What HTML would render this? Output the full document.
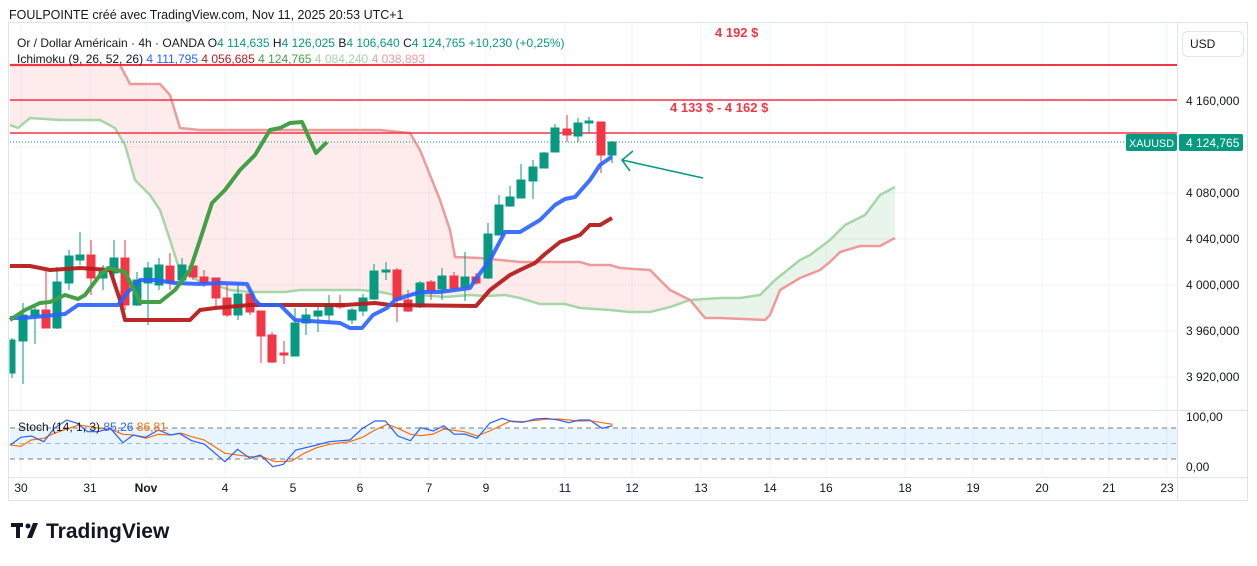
<!DOCTYPE html>
<html><head><meta charset="utf-8"><style>
body{margin:0;background:#fff;width:1257px;height:561px;overflow:hidden;font-family:"Liberation Sans",sans-serif;}
</style></head><body>
<svg width="1257" height="561" xmlns="http://www.w3.org/2000/svg" font-family="Liberation Sans, sans-serif">
<text x="9" y="19" font-size="12.5" fill="#131722">FOULPOINTE créé avec TradingView.com, Nov 11, 2025 20:53 UTC+1</text>
<rect x="8.5" y="22.5" width="1239" height="478" fill="#fff" stroke="#e0e3eb"/>
<g stroke="#f0f3fa" stroke-width="1">
<line x1="10" y1="101" x2="1177" y2="101"/><line x1="10" y1="147" x2="1177" y2="147"/><line x1="10" y1="193" x2="1177" y2="193"/><line x1="10" y1="239" x2="1177" y2="239"/><line x1="10" y1="285" x2="1177" y2="285"/><line x1="10" y1="331" x2="1177" y2="331"/><line x1="10" y1="377" x2="1177" y2="377"/>
<line x1="21" y1="23" x2="21" y2="477"/><line x1="90" y1="23" x2="90" y2="477"/><line x1="146" y1="23" x2="146" y2="477"/><line x1="225" y1="23" x2="225" y2="477"/><line x1="293" y1="23" x2="293" y2="477"/><line x1="360" y1="23" x2="360" y2="477"/><line x1="429" y1="23" x2="429" y2="477"/><line x1="486" y1="23" x2="486" y2="477"/><line x1="565" y1="23" x2="565" y2="477"/><line x1="632" y1="23" x2="632" y2="477"/><line x1="701" y1="23" x2="701" y2="477"/><line x1="770" y1="23" x2="770" y2="477"/><line x1="826" y1="23" x2="826" y2="477"/><line x1="905" y1="23" x2="905" y2="477"/><line x1="973" y1="23" x2="973" y2="477"/><line x1="1042" y1="23" x2="1042" y2="477"/><line x1="1109" y1="23" x2="1109" y2="477"/><line x1="1167" y1="23" x2="1167" y2="477"/>
</g>
<line x1="1177.5" y1="23" x2="1177.5" y2="500" stroke="#e0e3eb"/>
<line x1="9" y1="410.5" x2="1247" y2="410.5" stroke="#e0e3eb"/>
<line x1="9" y1="477.5" x2="1247" y2="477.5" stroke="#e0e3eb"/>
<defs>
<clipPath id="cp"><rect x="10" y="23" width="680" height="390"/></clipPath>
<clipPath id="cg"><rect x="690" y="23" width="300" height="390"/></clipPath>
</defs>
<g>
<polygon clip-path="url(#cp)" fill="#f23645" fill-opacity="0.1" points="10,125 18,128 30,118 60,120 100,120 115,128 125,145 135,180 150,195 160,210 170,240 178,265 190,275 200,282 215,285 230,290 250,292 285,292 300,290 360,290 380,292 395,295 420,295 445,297 470,295 485,296 505,295 520,298 540,304 565,304 580,308 610,310 630,312 650,312 670,307 690,300 720,298 740,298 760,295 775,280 800,260 810,255 830,240 845,225 865,215 880,195 895,187 895,238 880,246 860,246 840,252 830,262 820,270 800,278 780,290 770,315 765,320 720,318 705,318 690,300 670,290 660,280 650,270 620,268 610,265 590,265 580,262 520,262 500,260 480,258 455,257 450,230 440,200 420,150 410,133 380,130 200,130 180,128 170,95 160,84 130,84 120,65 10,65"/>
<polygon clip-path="url(#cg)" fill="#4caf50" fill-opacity="0.12" points="10,125 18,128 30,118 60,120 100,120 115,128 125,145 135,180 150,195 160,210 170,240 178,265 190,275 200,282 215,285 230,290 250,292 285,292 300,290 360,290 380,292 395,295 420,295 445,297 470,295 485,296 505,295 520,298 540,304 565,304 580,308 610,310 630,312 650,312 670,307 690,300 720,298 740,298 760,295 775,280 800,260 810,255 830,240 845,225 865,215 880,195 895,187 895,238 880,246 860,246 840,252 830,262 820,270 800,278 780,290 770,315 765,320 720,318 705,318 690,300 670,290 660,280 650,270 620,268 610,265 590,265 580,262 520,262 500,260 480,258 455,257 450,230 440,200 420,150 410,133 380,130 200,130 180,128 170,95 160,84 130,84 120,65 10,65"/>
</g>
<polyline fill="none" stroke="#a5d6a7" stroke-width="2.5" points="10,125 18,128 30,118 60,120 100,120 115,128 125,145 135,180 150,195 160,210 170,240 178,265 190,275 200,282 215,285 230,290 250,292 285,292 300,290 360,290 380,292 395,295 420,295 445,297 470,295 485,296 505,295 520,298 540,304 565,304 580,308 610,310 630,312 650,312 670,307 690,300 720,298 740,298 760,295 775,280 800,260 810,255 830,240 845,225 865,215 880,195 895,187"/>
<polyline fill="none" stroke="#ef9a9a" stroke-width="2.5" points="10,65 120,65 130,84 160,84 170,95 180,128 200,130 380,130 410,133 420,150 440,200 450,230 455,257 480,258 500,260 520,262 580,262 590,265 610,265 620,268 650,270 660,280 670,290 690,300 705,318 720,318 765,320 770,315 780,290 800,278 820,270 830,262 840,252 860,246 880,246 895,238"/>
<line x1="10" y1="65" x2="1177" y2="65" stroke="#f23645" stroke-width="2"/>
<line x1="10" y1="100" x2="1177" y2="100" stroke="#f23645" stroke-width="1.5"/>
<line x1="10" y1="133" x2="1177" y2="133" stroke="#f23645" stroke-width="1.5"/>
<line x1="10" y1="142" x2="1125" y2="142" stroke="#089981" stroke-width="1" stroke-dasharray="1,2"/>
<text x="715" y="37" font-size="13" font-weight="bold" fill="#f23645">4 192 $</text>
<text x="670" y="112" font-size="13" font-weight="bold" fill="#f23645">4 133 $ - 4 162 $</text>
<g stroke-width="1">
<g fill="#089981" stroke="#089981">
<line x1="12" y1="338" x2="12" y2="378"/><rect x="10" y="340" width="5" height="33"/>
<line x1="23" y1="303" x2="23" y2="384"/><rect x="19" y="315" width="8" height="26"/>
<line x1="35" y1="305" x2="35" y2="344"/><rect x="31" y="310" width="8" height="6"/>
<line x1="57" y1="267" x2="57" y2="329"/><rect x="53" y="282" width="8" height="46"/>
<line x1="69" y1="250" x2="69" y2="290"/><rect x="65" y="256" width="8" height="27"/>
<line x1="80" y1="232" x2="80" y2="265"/><rect x="76" y="255" width="8" height="5"/>
<line x1="103" y1="265" x2="103" y2="290"/><rect x="99" y="272" width="8" height="6"/>
<line x1="114" y1="240" x2="114" y2="285"/><rect x="110" y="258" width="8" height="15"/>
<line x1="137" y1="272" x2="137" y2="306"/><rect x="133" y="280" width="8" height="25"/>
<line x1="148" y1="262" x2="148" y2="325"/><rect x="144" y="268" width="8" height="15"/>
<line x1="159" y1="258" x2="159" y2="290"/><rect x="155" y="265" width="8" height="20"/>
<line x1="182" y1="258" x2="182" y2="283"/><rect x="178" y="265" width="8" height="15"/>
<line x1="238" y1="283" x2="238" y2="320"/><rect x="234" y="294" width="8" height="21"/>
<line x1="295" y1="308" x2="295" y2="356"/><rect x="291" y="323" width="8" height="33"/>
<line x1="306" y1="308" x2="306" y2="335"/><rect x="302" y="315" width="8" height="8"/>
<line x1="318" y1="306" x2="318" y2="332"/><rect x="314" y="311" width="8" height="5"/>
<line x1="329" y1="295" x2="329" y2="323"/><rect x="325" y="304" width="8" height="11"/>
<line x1="352" y1="308" x2="352" y2="324"/><rect x="348" y="310" width="8" height="10"/>
<line x1="363" y1="294" x2="363" y2="316"/><rect x="359" y="298" width="8" height="13"/>
<line x1="374" y1="264" x2="374" y2="300"/><rect x="370" y="271" width="8" height="28"/>
<line x1="386" y1="262" x2="386" y2="280"/><rect x="382" y="270" width="8" height="2"/>
<line x1="420" y1="281" x2="420" y2="308"/><rect x="416" y="283" width="8" height="24"/>
<line x1="442" y1="268" x2="442" y2="300"/><rect x="438" y="276" width="8" height="13"/>
<line x1="465" y1="252" x2="465" y2="301"/><rect x="461" y="277" width="8" height="10"/>
<line x1="488" y1="223" x2="488" y2="279"/><rect x="484" y="234" width="8" height="44"/>
<line x1="499" y1="195" x2="499" y2="235"/><rect x="495" y="205" width="8" height="30"/>
<line x1="510" y1="186" x2="510" y2="207"/><rect x="506" y="197" width="8" height="9"/>
<line x1="521" y1="164" x2="521" y2="198"/><rect x="517" y="180" width="8" height="18"/>
<line x1="533" y1="160" x2="533" y2="199"/><rect x="529" y="167" width="8" height="14"/>
<line x1="544" y1="152" x2="544" y2="168"/><rect x="540" y="153" width="8" height="15"/>
<line x1="555" y1="124" x2="555" y2="152"/><rect x="551" y="128" width="8" height="24"/>
<line x1="578" y1="118" x2="578" y2="142"/><rect x="574" y="123" width="8" height="13"/>
<line x1="589" y1="117" x2="589" y2="133"/><rect x="585" y="121" width="8" height="2"/>
<line x1="612" y1="141" x2="612" y2="163"/><rect x="608" y="142" width="8" height="13"/>
</g>
<g fill="#f23645" stroke="#f23645">
<line x1="46" y1="270" x2="46" y2="328"/><rect x="42" y="310" width="8" height="18"/>
<line x1="91" y1="240" x2="91" y2="295"/><rect x="87" y="255" width="8" height="23"/>
<line x1="125" y1="240" x2="125" y2="310"/><rect x="121" y="258" width="8" height="47"/>
<line x1="170" y1="253" x2="170" y2="290"/><rect x="166" y="266" width="8" height="17"/>
<line x1="193" y1="262" x2="193" y2="280"/><rect x="189" y="266" width="8" height="11"/>
<line x1="204" y1="270" x2="204" y2="287"/><rect x="200" y="277" width="8" height="6"/>
<line x1="216" y1="278" x2="216" y2="306"/><rect x="212" y="278" width="8" height="20"/>
<line x1="227" y1="285" x2="227" y2="317"/><rect x="223" y="298" width="8" height="17"/>
<line x1="250" y1="293" x2="250" y2="315"/><rect x="246" y="294" width="8" height="18"/>
<line x1="261" y1="311" x2="261" y2="363"/><rect x="257" y="311" width="8" height="25"/>
<line x1="272" y1="332" x2="272" y2="363"/><rect x="268" y="335" width="8" height="27"/>
<line x1="284" y1="341" x2="284" y2="364"/><rect x="280" y="353" width="8" height="2"/>
<line x1="340" y1="295" x2="340" y2="309"/><rect x="336" y="304" width="8" height="3"/>
<line x1="397" y1="268" x2="397" y2="322"/><rect x="393" y="270" width="8" height="30"/>
<line x1="408" y1="290" x2="408" y2="312"/><rect x="404" y="300" width="8" height="11"/>
<line x1="431" y1="280" x2="431" y2="300"/><rect x="427" y="282" width="8" height="9"/>
<line x1="454" y1="272" x2="454" y2="290"/><rect x="450" y="276" width="8" height="12"/>
<line x1="476" y1="273" x2="476" y2="285"/><rect x="472" y="277" width="8" height="6"/>
<line x1="567" y1="115" x2="567" y2="142"/><rect x="563" y="129" width="8" height="6"/>
<line x1="601" y1="122" x2="601" y2="173"/><rect x="597" y="122" width="8" height="33"/>
</g>
</g>
<polyline fill="none" stroke="#b71c1c" stroke-width="4" stroke-opacity="0.95" stroke-linejoin="round" points="10,266 30,266 40,268 50,270 80,268 110,270 120,300 125,320 190,320 200,310 215,308 250,305 345,305 375,303 390,305 476,306 490,290 510,275 520,270 535,263 545,254 560,242 580,235 590,225 600,225 612,218"/>
<polyline fill="none" stroke="#2962ff" stroke-width="4" stroke-opacity="0.9" stroke-linejoin="round" points="10,318 22,318 35,317 65,314 78,305 118,305 128,292 140,280 155,280 175,283 200,284 220,283 247,284 255,300 260,305 280,305 295,320 340,323 350,328 362,328 373,315 387,308 395,300 420,292 440,292 470,288 475,280 490,260 505,232 520,232 540,220 555,205 565,199 575,197 590,180 600,165 610,158 612,157"/>
<polyline fill="none" stroke="#43a047" stroke-width="4" stroke-linejoin="round" points="10,320 25,310 40,303 50,302 65,295 78,299 85,295 100,275 108,268 125,272 140,302 160,302 175,290 190,270 200,240 212,203 225,190 240,170 255,155 270,130 280,128 290,123 302,122 310,140 316,153 327,142"/>
<g stroke="#089981" stroke-width="1.6" fill="none"><line x1="703" y1="178" x2="622" y2="160"/><polyline points="633,151 622,160 630,171"/></g>
<g font-size="12">
<text x="17" y="47" fill="#131722">Or / Dollar Américain · 4h · OANDA <tspan fill="#131722">O</tspan><tspan fill="#089981">4 114,635</tspan> <tspan fill="#131722">H</tspan><tspan fill="#089981">4 126,025</tspan> <tspan fill="#131722">B</tspan><tspan fill="#089981">4 106,640</tspan> <tspan fill="#131722">C</tspan><tspan fill="#089981">4 124,765</tspan> <tspan fill="#089981">+10,230 (+0,25%)</tspan></text>
<text x="17" y="63" fill="#131722">Ichimoku (9, 26, 52, 26) <tspan fill="#2962ff">4 111,795</tspan> <tspan fill="#b71c1c">4 056,685</tspan> <tspan fill="#43a047">4 124,765</tspan> <tspan fill="#a5d6a7">4 084,240</tspan> <tspan fill="#ef9a9a">4 038,893</tspan></text>
</g>
<rect x="1182.5" y="31.5" width="61" height="25" rx="5" fill="#fff" stroke="#e0e3eb"/>
<text x="1190" y="48" font-size="12" fill="#131722">USD</text>
<g font-size="12" fill="#131722">
<text x="1186" y="105">4 160,000</text><text x="1186" y="197">4 080,000</text><text x="1186" y="243">4 040,000</text><text x="1186" y="289">4 000,000</text><text x="1186" y="335">3 960,000</text><text x="1186" y="381">3 920,000</text>
<text x="1186" y="421">100,00</text><text x="1186" y="471">0,00</text>
</g>
<rect x="1126" y="134" width="51" height="17" rx="2" fill="#089981"/>
<text x="1151.5" y="147" font-size="11" fill="#fff" text-anchor="middle" textLength="45" lengthAdjust="spacingAndGlyphs">XAUUSD</text>
<rect x="1179" y="134" width="64" height="17" rx="2" fill="#089981"/>
<text x="1186" y="147" font-size="12" fill="#fff">4 124,765</text>
<rect x="10" y="428" width="1167" height="31" fill="#2196f3" fill-opacity="0.1"/>
<g stroke="#787b86" stroke-dasharray="5,4" stroke-width="1"><line x1="10" y1="428" x2="1177" y2="428"/><line x1="10" y1="459" x2="1177" y2="459"/></g>
<line x1="10" y1="443.5" x2="1177" y2="443.5" stroke="#b2b5be" stroke-dasharray="5,4"/>
<polyline fill="none" stroke="#ff6d00" stroke-width="1.2" points="10.4,445 20.8,446.3 31.3,440 43.8,438.3 54.2,433.3 66.7,429 79.2,425 89.6,426.7 100,428.3 110.4,429.3 122.9,434.3 133.3,435 145.8,438.3 158.3,434.3 170.8,435 181.3,433.3 191.7,436.7 204.2,440 225,453.3 250,456.7 262.5,456.7 275,461.7 291.7,461 304.2,453.3 316.7,447.7 329.2,444.3 350,441.7 362.5,437.3 375,430 387.5,424.3 397.9,428.3 410.4,434.3 420.8,435.7 433.3,434 443.8,429 464.6,431.7 477.1,436 489.6,431 510.4,421 522.9,421.7 545.8,419.3 558.3,419 579.2,421 589.6,420.7 612.5,424.3"/>
<polyline fill="none" stroke="#2962ff" stroke-width="1.2" points="10.4,445 20.8,437.3 31.3,436 43.8,441.7 54.2,428.3 66.7,420 77.1,423.3 87.5,431.7 97.9,431.7 110.4,428.3 122.9,442.7 133.3,435 145.8,437.3 158.3,430 170.8,435 179.2,433.3 191.7,440.7 204.2,444 225,461.7 237.5,449.3 250,458.3 260.4,455 272.9,466.7 283.3,464.3 295.8,450 316.7,445 329.2,441.7 350,440 362.5,428.3 375,421 385.4,421 397.9,436 410.4,440.7 420.8,427.7 433.3,431 443.8,425.7 454.2,434.3 464.6,434 477.1,438.3 489.6,423.3 502.1,418.3 512.5,421.7 522.9,422.3 535.4,419 545.8,418.3 558.3,420 568.8,422.7 579.2,420 589.6,420 602.1,428.3 612.5,425.7"/>
<text x="18" y="431" font-size="12" fill="#131722">Stoch (14, 1, 3) <tspan fill="#2962ff">85,26</tspan> <tspan fill="#ff6d00">86,81</tspan></text>
<g font-size="12" fill="#131722" text-anchor="middle">
<text x="21" y="492">30</text><text x="90" y="492">31</text><text x="146" y="492" font-weight="bold">Nov</text><text x="225" y="492">4</text><text x="293" y="492">5</text><text x="360" y="492">6</text><text x="429" y="492">7</text><text x="486" y="492">9</text><text x="565" y="492">11</text><text x="632" y="492">12</text><text x="701" y="492">13</text><text x="770" y="492">14</text><text x="826" y="492">16</text><text x="905" y="492">18</text><text x="973" y="492">19</text><text x="1042" y="492">20</text><text x="1109" y="492">21</text><text x="1167" y="492">23</text>
</g>
<g fill="#131722">
<rect x="11" y="523" width="12" height="4"/><rect x="16" y="523" width="4" height="15"/>
<circle cx="28" cy="526" r="2.5"/><polygon points="33,523 38,523 32,538 27,538"/>
</g>
<text x="46" y="538" font-size="21" font-weight="bold" fill="#131722">TradingView</text>
</svg>
</body></html>
